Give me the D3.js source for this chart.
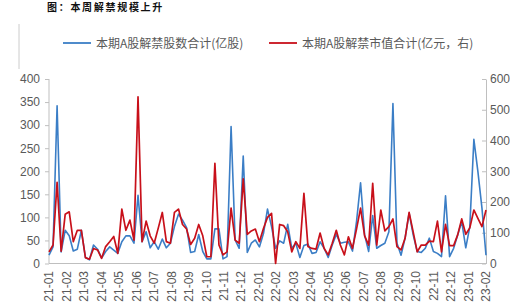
<!DOCTYPE html>
<html>
<head>
<meta charset="utf-8">
<script src="https://cdn.jsdelivr.net/npm/d3@7"></script>
<style>
  html, body { margin: 0; padding: 0; background: #fff; }
  svg { display: block; }
</style>
</head>
<body>
<svg id="chart" width="510" height="302"></svg>
<script>
// month labels on the x axis
var months = ["21-01", "21-02", "21-03", "21-04", "21-05", "21-06", "21-07", "21-08", "21-09",
  "21-10", "21-11", "21-12", "22-01", "22-02", "22-03", "22-04", "22-05", "22-06", "22-07",
  "22-08", "22-09", "22-10", "22-11", "22-12", "23-01", "23-02"];

// weekly unlocked shares (亿股), left axis
var sharesWeekly = [
  18, 36, 342, 25, 72, 60, 27, 31, 72, 13, 8, 40, 31, 12, 26, 36, 29, 22, 47, 60, 60, 44, 148, 47, 69, 34, 47, 31,
  53, 34, 44, 80, 107, 94, 78, 24, 26, 63, 26, 10, 10, 75, 75, 10, 15, 297, 51, 33, 233, 24, 44, 51, 36, 65, 118,
  80, 33, 49, 44, 85, 33, 44, 13, 39, 42, 22, 24, 47, 33, 13, 40, 63, 44, 46, 47, 27, 91, 175, 62, 26, 104, 33,
  39, 44, 69, 347, 44, 18, 55, 109, 62, 26, 24, 33, 55, 26, 22, 15, 147, 15, 33, 62, 91, 34, 80, 269, 199, 120, 18
];

// weekly unlocked market value (亿元), right axis
var valueWeekly = [
  38, 60, 264, 40, 160, 168, 71, 108, 108, 19, 14, 49, 44, 17, 55, 71, 88, 33, 177, 108, 141, 76, 542, 71, 138, 90, 66, 115,
  166, 71, 66, 166, 177, 127, 112, 62, 82, 127, 90, 22, 22, 326, 60, 28, 38, 180, 76, 66, 275, 95, 106, 112, 71, 114, 150,
  163, 0, 127, 123, 103, 38, 71, 49, 228, 55, 49, 47, 99, 49, 28, 66, 108, 60, 28, 87, 49, 112, 180, 90, 60, 261, 60,
  174, 106, 120, 145, 55, 44, 82, 166, 103, 38, 60, 60, 73, 71, 138, 38, 127, 58, 58, 93, 145, 95, 116, 174, 147, 120, 174
];

var leftTicks = [0, 50, 100, 150, 200, 250, 300, 350, 400];
var rightTicks = [0, 100, 200, 300, 400, 500, 600];

var seriesNames = ["本期A股解禁股数合计(亿股)", "本期A股解禁市值合计(亿元，右)"];
var title = "图：本周解禁规模上升";

var svg = d3.select("#chart");
var x0 = 49, x1 = 486, yTop = 79, yBottom = 263.5;
var gray = "#595959", axisColor = "#bfbfbf";
var blue = "#3b7ec6", red = "#c8101a";

// scales
var xIdx = d3.scaleLinear().domain([0, sharesWeekly.length - 1]).range([x0, x1]);
var xMonth = d3.scalePoint().domain(months).range([x0, x1]);
var yLeft = d3.scaleLinear().domain([0, 400]).range([yBottom, yTop]);
var yRight = d3.scaleLinear().domain([0, 600]).range([yBottom, yTop]);

svg.append("rect").attr("width", 510).attr("height", 302).attr("fill", "#fff");

// title
svg.append("text")
  .attr("x", 47).attr("y", 11)
  .attr("font-family", "'Noto Sans CJK SC'")
  .attr("font-size", 10)
  .attr("font-weight", "bold")
  .attr("letter-spacing", 1.7)
  .attr("fill", "#111")
  .text(title);

// stray frame line on the left
svg.append("line")
  .attr("x1", 19).attr("x2", 19).attr("y1", 24).attr("y2", 69)
  .attr("stroke", "#cccccc").attr("stroke-width", 1);

// legend
var legend = [
  { name: seriesNames[0], color: blue, lx: 63 },
  { name: seriesNames[1], color: red, lx: 269 }
];
var lg = svg.append("g");
legend.forEach(function (d) {
  lg.append("line")
    .attr("x1", d.lx).attr("x2", d.lx + 28).attr("y1", 43).attr("y2", 43)
    .attr("stroke", d.color).attr("stroke-width", 1.8);
  lg.append("text")
    .attr("x", d.lx + 33).attr("y", 47.5)
    .attr("font-family", "'Noto Sans CJK SC'")
    .attr("font-size", 12)
    .attr("fill", gray)
    .text(d.name);
});

// left axis
var leftAxis = svg.append("g")
  .attr("transform", "translate(" + x0 + ",0)")
  .call(d3.axisLeft(yLeft).tickValues(leftTicks).tickSize(4).tickPadding(5));
leftAxis.select(".domain").attr("stroke", axisColor);

// right axis
var rightAxis = svg.append("g")
  .attr("transform", "translate(" + x1 + ",0)")
  .call(d3.axisRight(yRight).tickValues(rightTicks).tickSizeInner(-4).tickSizeOuter(0).tickPadding(4));
rightAxis.select(".domain").attr("stroke", axisColor);

[leftAxis, rightAxis].forEach(function (a) {
  a.selectAll(".tick line").attr("stroke", axisColor);
  a.selectAll("text")
    .attr("font-family", "'Liberation Sans', Arial, sans-serif")
    .attr("font-size", 12)
    .attr("fill", gray);
});
leftAxis.select(".domain").attr("d", "M0," + yTop + "V" + yBottom);

// bottom axis line
svg.append("line")
  .attr("x1", x0).attr("x2", x1).attr("y1", yBottom).attr("y2", yBottom)
  .attr("stroke", axisColor);

// x labels, rotated
svg.append("g")
  .selectAll("text")
  .data(months)
  .join("text")
  .attr("transform", function (d) { return "translate(" + xMonth(d) + ",271) rotate(-90)"; })
  .attr("text-anchor", "end")
  .attr("dy", "0.35em")
  .attr("font-family", "'Liberation Sans', Arial, sans-serif")
  .attr("font-size", 12)
  .attr("fill", gray)
  .text(function (d) { return d; });

// lines
var lineLeft = d3.line().x(function (d, i) { return xIdx(i); }).y(function (d) { return yLeft(d); });
var lineRight = d3.line().x(function (d, i) { return xIdx(i); }).y(function (d) { return yRight(d); });

svg.append("path")
  .datum(sharesWeekly)
  .attr("d", lineLeft)
  .attr("fill", "none")
  .attr("stroke", blue)
  .attr("stroke-width", 1.6)
  .attr("stroke-linejoin", "round");

svg.append("path")
  .datum(valueWeekly)
  .attr("d", lineRight)
  .attr("fill", "none")
  .attr("stroke", red)
  .attr("stroke-width", 1.7)
  .attr("stroke-linejoin", "round");
</script>
</body>
</html>
